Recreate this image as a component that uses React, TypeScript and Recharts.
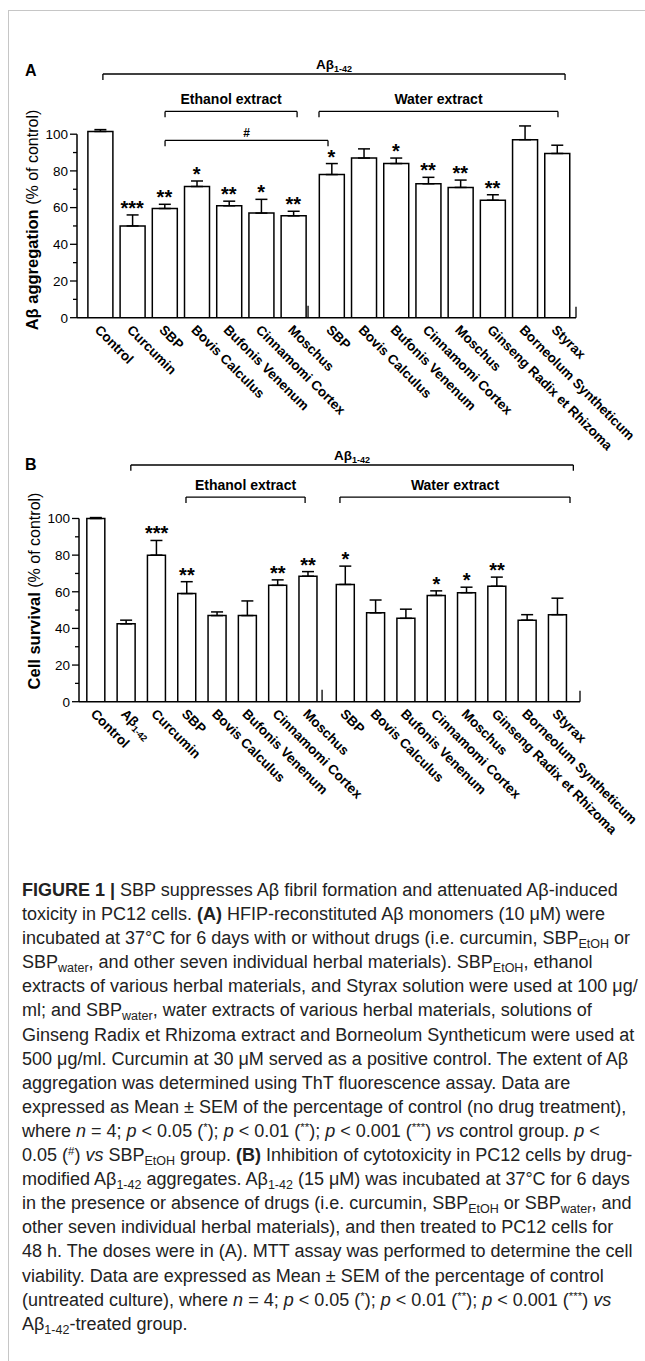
import {
  Bar,
  ComposedChart,
  ErrorBar,
  LabelList,
  Line,
  ReferenceLine,
  XAxis,
  YAxis,
} from "recharts";

const FONT = "'Liberation Sans', Arial, Helvetica, sans-serif";

// Panel A: Aβ aggregation (% of control)
const catsA = [
  "Control",
  "Curcumin",
  "SBP",
  "Bovis Calculus",
  "Bufonis Venenum",
  "Cinnamomi Cortex",
  "Moschus",
  "SBP",
  "Bovis Calculus",
  "Bufonis Venenum",
  "Cinnamomi Cortex",
  "Moschus",
  "Ginseng Radix et Rhizoma",
  "Borneolum Syntheticum",
  "Styrax",
];
const meanA = [101.5, 50, 59.5, 71.5, 61, 57, 55.5, 78, 87, 84, 73, 71, 64, 97, 89.5];
const semA = [1, 6, 2.3, 3, 2.5, 7.5, 2.5, 6, 5, 3, 3.5, 4, 3, 7.5, 4.5];
const sigA = ["", "***", "**", "*", "**", "*", "**", "*", "", "*", "**", "**", "**", "", ""];

// Panel B: cell survival (% of control)
const catsB = [
  "Control",
  "Aβ1-42",
  "Curcumin",
  "SBP",
  "Bovis Calculus",
  "Bufonis Venenum",
  "Cinnamomi Cortex",
  "Moschus",
  "SBP",
  "Bovis Calculus",
  "Bufonis Venenum",
  "Cinnamomi Cortex",
  "Moschus",
  "Ginseng Radix et Rhizoma",
  "Borneolum Syntheticum",
  "Styrax",
];
const meanB = [100, 42.5, 80, 59, 47, 47, 63.5, 68.5, 64, 48.5, 45.5, 58, 59.5, 63, 44.5, 47.5];
const semB = [0.5, 2, 8, 6.5, 2, 8, 3, 2.5, 10, 7, 5, 2.5, 3, 5, 3, 9];
const sigB = ["", "", "***", "**", "", "", "**", "**", "*", "", "", "*", "*", "**", "", ""];

// group brackets (x in axis units, y in % units)
const bracketsA = [
  { from: 0.09, to: 14.44, y: 132.8, text: "Aβ", sub: "1-42" },
  { from: 2.02, to: 6.12, y: 112.4, text: "Ethanol extract" },
  { from: 6.8, to: 14.22, y: 112.4, text: "Water extract" },
  { from: 2.02, to: 7.08, y: 96.6, text: "#" },
];
const bracketsB = [
  { from: 1.15, to: 15.75, y: 129.2, text: "Aβ", sub: "1-42" },
  { from: 2.97, to: 6.9, y: 111.7, text: "Ethanol extract" },
  { from: 8.05, to: 15.64, y: 111.7, text: "Water extract" },
];

const yTicks = [0, 10, 20, 30, 40, 50, 60, 70, 80, 90, 100];

const buildRows = (
  cats: string[],
  mean: number[],
  sem: number[],
  sig: string[],
  firstWater: number,
  gap: number
) =>
  cats.map((label, i) => ({
    x: i + (i >= firstWater ? gap : 0),
    label,
    mean: mean[i],
    range: [0, sem[i]],
    top: mean[i] + sem[i],
    sig: sig[i],
  }));

const rowsA = buildRows(catsA, meanA, semA, sigA, 7, 0.186);
const rowsB = buildRows(catsB, meanB, semB, sigB, 8, 0.231);

type Row = ReturnType<typeof buildRows>[number];
type Bracket = { from: number; to: number; y: number; text: string; sub?: string };

const YTick = (props: any) => {
  const { x, y, payload } = props;
  const v = payload.value;
  const major = v % 20 === 0;
  return (
    <g>
      <line x1={x - (major ? 7 : 4)} x2={x} y1={y} y2={y} stroke="#000" strokeWidth={1.3} />
      {major && (
        <text x={x - 9} y={y + 4.8} textAnchor="end" fontSize={13.5} fill="#000" fontFamily={FONT}>
          {v}
        </text>
      )}
    </g>
  );
};

const makeXTick = (rows: Row[]) => (props: any) => {
  const { x, y, payload } = props;
  const row = rows.find((r) => Math.abs(r.x - payload.value) < 1e-6);
  if (!row) return <g />;
  const m = row.label.match(/^(Aβ)(1-42)$/);
  const tx = x - 6;
  const ty = y + 13;
  return (
    <text
      x={tx}
      y={ty}
      transform={`rotate(45 ${tx} ${ty})`}
      fontSize={13.5}
      fontWeight="bold"
      fill="#000"
      fontFamily={FONT}
    >
      {m ? m[1] : row.label}
      {m && (
        <tspan fontSize={9} dy={3}>
          {m[2]}
        </tspan>
      )}
    </text>
  );
};

const sigLabel = (props: any) => {
  const vb = props.viewBox || {};
  const x = props.x ?? vb.x;
  const y = props.y ?? vb.y;
  if (!props.value) return <g />;
  return (
    <text x={x} y={y} textAnchor="middle" fontSize={20} fontWeight="bold" fill="#000" fontFamily={FONT}>
      {props.value}
    </text>
  );
};

const bracketLabel = (b: Bracket) => (props: any) => {
  const vb = props.viewBox;
  const cx = vb.x + vb.width / 2;
  const isHash = b.text === "#";
  const lift = b.sub ? 5 : isHash ? 3 : 7;
  return (
    <text
      x={cx}
      y={vb.y - lift}
      textAnchor="middle"
      fontSize={isHash ? 12 : b.sub ? 13.5 : 14}
      fontWeight="bold"
      fill="#000"
      fontFamily={FONT}
    >
      {b.text}
      {b.sub && (
        <tspan fontSize={9} dy={3}>
          {b.sub}
        </tspan>
      )}
    </text>
  );
};

const bracketLines = (b: Bracket, key: string) => {
  const drop = 3.2;
  const common = { stroke: "#000", strokeWidth: 1.3, ifOverflow: "visible" as const };
  return [
    <ReferenceLine
      key={`${key}-h`}
      {...common}
      segment={[
        { x: b.from, y: b.y },
        { x: b.to, y: b.y },
      ]}
      label={bracketLabel(b)}
    />,
    <ReferenceLine
      key={`${key}-l`}
      {...common}
      segment={[
        { x: b.from, y: b.y },
        { x: b.from, y: b.y - drop },
      ]}
    />,
    <ReferenceLine
      key={`${key}-r`}
      {...common}
      segment={[
        { x: b.to, y: b.y },
        { x: b.to, y: b.y - drop },
      ]}
    />,
  ];
};

type PanelProps = {
  rows: Row[];
  domainX: [number, number];
  breakAt: number;
  brackets: Bracket[];
  width: number;
  height: number;
  margin: { top: number; right: number; bottom: number; left: number };
  barSize: number;
};

const Panel = ({ rows, domainX, breakAt, brackets, width, height, margin, barSize }: PanelProps) => (
  <ComposedChart width={width} height={height} data={rows} margin={margin}>
    <XAxis
      dataKey="x"
      type="number"
      domain={domainX}
      allowDataOverflow
      ticks={rows.map((r) => r.x)}
      interval={0}
      tickLine={false}
      tickSize={0}
      tickMargin={0}
      height={130}
      axisLine={{ stroke: "#000", strokeWidth: 1.5 }}
      tick={makeXTick(rows)}
    />
    <YAxis
      type="number"
      domain={[0, 140]}
      allowDataOverflow
      ticks={yTicks}
      interval={0}
      width={60}
      axisLine={false}
      tickLine={false}
      tickSize={0}
      tickMargin={0}
      tick={(p: any) => <YTick {...p} />}
    />
    {/* y axis line from 0 to 100 */}
    <ReferenceLine
      segment={[
        { x: domainX[0], y: 0 },
        { x: domainX[0], y: 100 },
      ]}
      stroke="#000"
      strokeWidth={1.5}
      ifOverflow="visible"
    />
    {/* x axis break marks */}
    <ReferenceLine
      segment={[
        { x: breakAt, y: 0 },
        { x: breakAt, y: 6.5 },
      ]}
      stroke="#000"
      strokeWidth={1.3}
      ifOverflow="visible"
    />
    <ReferenceLine
      segment={[
        { x: domainX[1], y: 0 },
        { x: domainX[1], y: 6 },
      ]}
      stroke="#000"
      strokeWidth={1.3}
      ifOverflow="visible"
    />
    {brackets.flatMap((b, i) => bracketLines(b, `br${i}`))}
    <Bar
      dataKey="mean"
      barSize={barSize}
      fill="#fff"
      stroke="#000"
      strokeWidth={1.5}
      isAnimationActive={false}
    >
      <ErrorBar
        dataKey="range"
        direction="y"
        width={6}
        stroke="#000"
        strokeWidth={1.5}
        isAnimationActive={false}
      />
    </Bar>
    <Line
      dataKey="top"
      stroke="none"
      dot={false}
      activeDot={false}
      isAnimationActive={false}
    >
      <LabelList dataKey="sig" content={sigLabel} />
    </Line>
  </ComposedChart>
);

const sub = (t: string) => (
  <span style={{ fontSize: 12.5, verticalAlign: "-4px", lineHeight: 0 }}>{t}</span>
);
const sup = (t: string) => (
  <span style={{ fontSize: 11.5, verticalAlign: "6px", lineHeight: 0 }}>{t}</span>
);
const it = (t: string) => <i>{t}</i>;

const captionLines = [
  <>
    <b>FIGURE 1 |</b> SBP suppresses Aβ fibril formation and attenuated Aβ-induced
  </>,
  <>
    toxicity in PC12 cells. <b>(A)</b> HFIP-reconstituted Aβ monomers (10 μM) were
  </>,
  <>
    incubated at 37°C for 6 days with or without drugs (i.e. curcumin, SBP{sub("EtOH")} or
  </>,
  <>
    SBP{sub("water")}, and other seven individual herbal materials). SBP{sub("EtOH")}, ethanol
  </>,
  <>extracts of various herbal materials, and Styrax solution were used at 100 μg/</>,
  <>
    ml; and SBP{sub("water")}, water extracts of various herbal materials, solutions of
  </>,
  <>Ginseng Radix et Rhizoma extract and Borneolum Syntheticum were used at</>,
  <>500 μg/ml. Curcumin at 30 μM served as a positive control. The extent of Aβ</>,
  <>aggregation was determined using ThT fluorescence assay. Data are</>,
  <>expressed as Mean ± SEM of the percentage of control (no drug treatment),</>,
  <>
    where {it("n")} = 4; {it("p")} &lt; 0.05 ({sup("*")}); {it("p")} &lt; 0.01 ({sup("**")});{" "}
    {it("p")} &lt; 0.001 ({sup("***")}) {it("vs")} control group. {it("p")} &lt;
  </>,
  <>
    0.05 ({sup("#")}) {it("vs")} SBP{sub("EtOH")} group. <b>(B)</b> Inhibition of cytotoxicity in PC12 cells by drug-
  </>,
  <>
    modified Aβ{sub("1-42")} aggregates. Aβ{sub("1-42")} (15 μM) was incubated at 37°C for 6 days
  </>,
  <>
    in the presence or absence of drugs (i.e. curcumin, SBP{sub("EtOH")} or SBP{sub("water")}, and
  </>,
  <>other seven individual herbal materials), and then treated to PC12 cells for</>,
  <>48 h. The doses were in (A). MTT assay was performed to determine the cell</>,
  <>viability. Data are expressed as Mean ± SEM of the percentage of control</>,
  <>
    (untreated culture), where {it("n")} = 4; {it("p")} &lt; 0.05 ({sup("*")}); {it("p")} &lt; 0.01 ({sup("**")});{" "}
    {it("p")} &lt; 0.001 ({sup("***")}) {it("vs")}
  </>,
  <>
    Aβ{sub("1-42")}-treated group.
  </>,
];

export default function App() {
  return (
    <div
      style={{
        position: "absolute",
        left: 0,
        top: 0,
        width: 645,
        height: 1361,
        background: "#fff",
        overflow: "hidden",
        fontFamily: FONT,
      }}
    >
      {/* frame */}
      <div
        style={{
          position: "absolute",
          left: 8,
          top: 10,
          width: 650,
          height: 1400,
          borderTop: "1.5px solid #c6c6c6",
          borderLeft: "1.5px solid #c6c6c6",
        }}
      />
      <div style={{ position: "absolute", left: 0, top: 0 }}>
        <Panel
          rows={rowsA}
          domainX={[-0.714, 14.78]}
          breakAt={6.46}
          brackets={bracketsA}
          width={645}
          height={460}
          margin={{ top: 60.8, right: 69, bottom: 12.3, left: 17 }}
          barSize={25}
        />
      </div>
      <div style={{ position: "absolute", left: 0, top: 440 }}>
        <Panel
          rows={rowsB}
          domainX={[-0.56, 15.97]}
          breakAt={7.46}
          brackets={bracketsB}
          width={645}
          height={420}
          margin={{ top: 5.2, right: 65, bottom: 28.3, left: 19 }}
          barSize={18}
        />
      </div>
      <svg
        width={645}
        height={860}
        style={{ position: "absolute", left: 0, top: 0, pointerEvents: "none" }}
        fontFamily={FONT}
      >
        <text x={25} y={76} fontSize={16} fontWeight="bold" fill="#000">
          A
        </text>
        <text x={25} y={470} fontSize={16} fontWeight="bold" fill="#000">
          B
        </text>
        <text transform="translate(37.5,220) rotate(-90)" textAnchor="middle" fill="#000">
          <tspan fontSize={16.5} fontWeight="bold">
            Aβ aggregation
          </tspan>
          <tspan fontSize={16}> (% of control)</tspan>
        </text>
        <text transform="translate(40,591) rotate(-90)" textAnchor="middle" fill="#000">
          <tspan fontSize={16.5} fontWeight="bold">
            Cell survival
          </tspan>
          <tspan fontSize={16}> (% of control)</tspan>
        </text>
      </svg>
      <div
        style={{
          position: "absolute",
          left: 22,
          top: 878,
          fontSize: 18,
          color: "#222",
          lineHeight: "24.1px",
        }}
      >
        {captionLines.map((l, i) => (
          <div key={i} style={{ whiteSpace: "nowrap", height: 24.1 }}>
            {l}
          </div>
        ))}
      </div>
    </div>
  );
}
